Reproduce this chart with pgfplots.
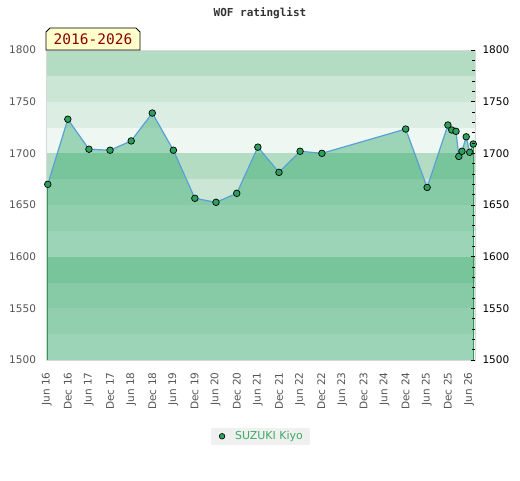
\documentclass[border=0pt]{standalone}
\usepackage{fontspec}
\setmainfont{DejaVu Sans}
\setmonofont{DejaVu Sans Mono}
\usepackage{pgfplots}
\usepackage{pgfplotstable}
\pgfplotsset{compat=1.18}

\definecolor{bandA}{RGB}{179,220,195}
\definecolor{bandB}{RGB}{204,230,214}
\definecolor{bandC}{RGB}{220,238,227}
\definecolor{bandD}{RGB}{239,247,242}
\definecolor{areagreen}{RGB}{33,161,96}
\definecolor{edgegreen}{RGB}{46,150,86}
\definecolor{linblue}{RGB}{88,160,215}
\definecolor{mkgreen}{RGB}{44,160,92}
\definecolor{framegray}{RGB}{216,216,216}
\definecolor{labgray}{RGB}{85,85,85}
\definecolor{legbg}{RGB}{240,240,240}
\definecolor{leggreen}{RGB}{58,172,98}
\definecolor{titlegray}{RGB}{51,51,51}
\definecolor{boxyellow}{RGB}{255,255,204}
\definecolor{yeartext}{RGB}{139,0,0}

\pgfplotstableread{
x y
0.3 1670
6.0 1733
12.0 1704
18.0 1703
24.0 1712
30.0 1739
36.0 1703
42.1 1656.5
48.1 1652.6
54.0 1661.3
60.0 1706
66.0 1681.6
72.0 1702
78.2 1700
102.0 1723.5
108.1 1667
114.0 1727.4
115.1 1722.6
116.3 1721.3
117.1 1697
118.0 1702
119.2 1716
120.2 1701
121.2 1709
}\ratings

\newcommand{\tickfont}{\fontsize{10.5}{12}\selectfont}

\begin{document}
\begin{tikzpicture}
\begin{axis}[
  at={(0,0)}, anchor=south west,
  width=429pt, height=310pt, scale only axis,
  xmin=-0.2, xmax=121.7, ymin=1500, ymax=1800,
  axis on top,
  axis line style={draw=framegray, line width=0.8pt},
  xtick={0,6,...,120},
  xticklabels={Jun 16,Dec 16,Jun 17,Dec 17,Jun 18,Dec 18,Jun 19,Dec 19,Jun 20,Dec 20,Jun 21,Dec 21,Jun 22,Dec 22,Jun 23,Dec 23,Jun 24,Dec 24,Jun 25,Dec 25,Jun 26},
  ytick={1500,1550,...,1800},
  xtick pos=bottom, ytick pos=left,
  major tick length=0pt,
  tick style={draw=none},
  /pgf/number format/assume math mode=true,
  /pgf/number format/1000 sep={},
  yticklabel style={text=labgray, font=\tickfont, xshift=-6.5pt},
  xticklabel style={text=labgray, font=\tickfont, yshift=-9pt, rotate=90, anchor=east},
  legend style={at={(0.5,-0.246)}, anchor=center, fill=legbg, draw=none,
    text=leggreen, font=\fontsize{11}{13}\selectfont, inner xsep=5pt, inner ysep=1.5pt},
]
% background bands
\fill[bandA] (axis cs:-0.2,1775) rectangle (axis cs:121.7,1800);
\fill[bandB] (axis cs:-0.2,1750) rectangle (axis cs:121.7,1775);
\fill[bandC] (axis cs:-0.2,1725) rectangle (axis cs:121.7,1750);
\fill[bandD] (axis cs:-0.2,1700) rectangle (axis cs:121.7,1725);
\fill[bandA] (axis cs:-0.2,1675) rectangle (axis cs:121.7,1700);
\fill[bandB] (axis cs:-0.2,1650) rectangle (axis cs:121.7,1675);
\fill[bandC] (axis cs:-0.2,1625) rectangle (axis cs:121.7,1650);
\fill[bandD] (axis cs:-0.2,1600) rectangle (axis cs:121.7,1625);
\fill[bandA] (axis cs:-0.2,1575) rectangle (axis cs:121.7,1600);
\fill[bandB] (axis cs:-0.2,1550) rectangle (axis cs:121.7,1575);
\fill[bandC] (axis cs:-0.2,1525) rectangle (axis cs:121.7,1550);
\fill[bandD] (axis cs:-0.2,1500) rectangle (axis cs:121.7,1525);
% area
\addplot[draw=none, fill=areagreen, fill opacity=0.4, forget plot] table[x=x,y=y] {\ratings} \closedcycle;
% edges
\addplot[edgegreen, line width=1pt, forget plot] coordinates {(0.3,1500) (0.3,1670)};
\addplot[edgegreen, line width=1pt, forget plot] coordinates {(121.2,1500) (121.2,1709)};
% line and markers
\addplot[linblue, line width=1.2pt, mark=*, mark size=3.3pt,
  mark options={fill=mkgreen, draw=black, line width=0.7pt}, forget plot] table[x=x,y=y] {\ratings};
\addlegendimage{legend image code/.code={%
  \path[draw=none, fill=none] (-6pt,-3pt) rectangle (11pt,3pt);
  \draw[mark=*, mark size=2.8pt, mark options={fill=mkgreen, draw=black, line width=0.6pt}] plot coordinates {(0pt,0pt)};}}
\addlegendentry{SUZUKI Kiyo}
\end{axis}
\begin{axis}[
  at={(0,0)}, anchor=south west,
  width=429pt, height=310pt, scale only axis,
  xmin=-0.2, xmax=121.7, ymin=1500, ymax=1800,
  axis x line=none, axis y line*=right,
  y axis line style={draw=none},
  ytick={1500,1550,...,1800},
  minor y tick num=4,
  tick align=inside,
  major tick length=4.5pt, minor tick length=3pt,
  every tick/.style={black, line width=0.7pt},
  /pgf/number format/assume math mode=true,
  /pgf/number format/1000 sep={},
  yticklabel style={text=black, font=\tickfont, xshift=4pt},
]
\end{axis}
% title
\node[font=\ttfamily\bfseries\fontsize{11}{13}\selectfont, text=titlegray] at (214pt,347pt) {WOF ratinglist};
% period box
\draw[fill=boxyellow, draw=black, line width=0.8pt]
  (0pt,310pt) -- (0pt,328pt) -- (4pt,332pt) -- (90pt,332pt) -- (94pt,328pt) -- (94pt,310pt) -- cycle;
\node[font=\ttfamily\fontsize{14.5}{16}\selectfont, text=yeartext] at (47pt,320.5pt) {2016-2026};
\pgfresetboundingbox
\useasboundingbox (-46pt,-120pt) rectangle (474pt,360pt);
\end{tikzpicture}
\end{document}
